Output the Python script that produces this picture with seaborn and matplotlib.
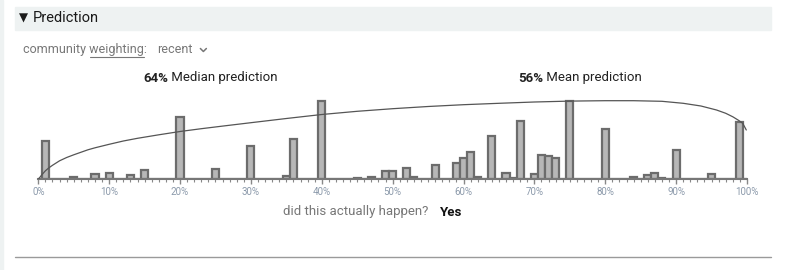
import numpy as np
import pandas as pd
import matplotlib
matplotlib.use("Agg")
import matplotlib.pyplot as plt
import seaborn as sns
from matplotlib.lines import Line2D
from matplotlib.patches import Rectangle

# ---- data ----
bar_pcts = [1, 5, 8, 10, 13, 15, 20, 25, 30, 35, 36, 40, 45, 47, 49, 50, 52, 53,
            56, 59, 60, 61, 62, 64, 66, 67, 68, 70, 71, 72, 73, 75, 80, 84, 86,
            87, 88, 90, 95, 99]
bar_heights = [38.3, 2.0, 5.6, 6.6, 4.3, 9.0, 62.6, 10.6, 33.0, 3.3, 40.0, 78.6,
               1.6, 2.0, 8.6, 8.6, 11.6, 2.0, 14.3, 16.6, 21.0, 27.3, 2.0, 43.0,
               6.0, 1.5, 58.0, 5.0, 24.3, 23.0, 21.0, 78.6, 50.0, 2.3, 4.0, 6.6,
               1.0, 29.0, 5.3, 57.0]

curve_x = [0.0, 0.5, 1.0, 1.5, 2.0, 3.0, 4.0, 5.0, 6.0, 7.0, 8.0, 10.0, 12.0,
           14.0, 17.0, 20.0, 23.0, 26.0, 30.0, 35.0, 40.0, 45.0, 50.0, 55.0,
           60.0, 65.0, 70.0, 75.0, 80.0, 84.0, 88.0, 91.0, 93.5, 95.7, 97.0,
           98.0, 98.8, 99.4, 99.9]
curve_y = [0.0, 4.5, 8.5, 11.5, 14.0, 18.5, 21.8, 24.5, 27.0, 29.5, 31.5, 35.0,
           38.3, 41.0, 44.5, 47.8, 50.6, 53.2, 56.6, 60.8, 64.8, 68.0, 70.6, 72.8,
           74.6, 76.0, 77.3, 78.2, 78.6, 78.6, 78.0, 76.0, 73.3, 69.3, 66.0,
           62.5, 59.0, 56.0, 49.3]

tick_values = list(range(0, 101, 10))
tick_labels = [f"{v}%" for v in tick_values]

median_label = ("64%", " Median prediction")
mean_label = ("56%", " Mean prediction")

# ---- figure ----
sns.set_theme(style="white")
plt.rcParams["font.family"] = ["Roboto", "DejaVu Sans"]

W, H = 787, 270
fig = plt.figure(figsize=(W / 100, H / 100), dpi=100)


def fx(x):
    return x / W


def fy(y):
    return 1 - y / H


# header band and frame pieces
fig.patches.append(Rectangle((fx(15), fy(30)), fx(771) - fx(15), fy(7) - fy(30),
                             transform=fig.transFigure, color="#eef2f2", zorder=0))
fig.patches.append(Rectangle((0, 0), fx(3), 1, transform=fig.transFigure,
                             color="#eef2f2", zorder=0))
fig.lines.append(Line2D([fx(15), fx(771)], [fy(257), fy(257)], transform=fig.transFigure,
                        color="#9a9a9a", lw=1.0))

renderer = fig.canvas.get_renderer()


def seq(x, y, parts):
    for s, kw in parts:
        gap = kw.pop("gap", 0)
        t = fig.text(fx(x), fy(y), s, va="center", ha="left", **kw)
        bb = t.get_window_extent(renderer=renderer)
        x = bb.x1 + gap
    return x


def width_of(s, **kw):
    t = fig.text(0, 0, s, **kw)
    w = t.get_window_extent(renderer=renderer).width
    t.remove()
    return w


seq(19, 18.5, [("▼", dict(fontsize=8.5, color="#1a1a1a", family=["DejaVu Sans"], gap=5)),
               ("Prediction", dict(fontsize=10.5, color="#1a1a1a"))])

gkw = dict(fontsize=9, color="#777777")
xe = seq(23, 50, [("community weighting:", dict(gkw, gap=10)),
                  ("recent", dict(gkw))])
u0 = 23 + width_of("community ", **gkw)
u1 = 23 + width_of("community weighting", **gkw)
fig.lines.append(Line2D([fx(u0 + 1), fx(u1)], [fy(57), fy(57)],
                        transform=fig.transFigure, color="#777777", lw=0.8))
cx = xe + 8
fig.lines.append(Line2D([fx(cx), fx(cx + 3), fx(cx + 6)], [fy(48.5), fy(51.5), fy(48.5)],
                        transform=fig.transFigure, color="#777777", lw=1.1))

seq(143, 78, [(median_label[0], dict(fontsize=9.5, color="#222222", weight="bold")),
              (median_label[1], dict(fontsize=9.5, color="#222222"))])
seq(518, 78, [(mean_label[0], dict(fontsize=9.5, color="#222222", weight="bold")),
              (mean_label[1], dict(fontsize=9.5, color="#222222"))])

seq(283, 212, [("did this actually happen?", dict(fontsize=9.5, color="#777777", gap=12)),
               ("Yes", dict(fontsize=9.5, color="#111111", weight="bold"))])

# ---- chart axes ----
x0, x1 = 38.3, 747.0
ybase, ytop = 179.3, 95.0
ax = fig.add_axes([fx(x0), fy(ybase), fx(x1) - fx(x0), fy(ytop) - fy(ybase)])
ax.set_facecolor("none")

df = pd.DataFrame({"pct": bar_pcts, "h": bar_heights})
sns.histplot(data=df, x="pct", weights="h", binwidth=1, binrange=(-0.5, 100.5),
             ax=ax, color="#b7b7b7", alpha=1, edgecolor="#6c6c6c", linewidth=1.6)

cdf = pd.DataFrame({"x": curve_x, "y": curve_y})
sns.lineplot(data=cdf, x="x", y="y", ax=ax, color="#555555", lw=0.9, zorder=5)

ax.set_xlim(0, 100)
ax.set_ylim(0, ybase - ytop)
ax.set_xlabel("")
ax.set_ylabel("")
ax.set_yticks([])
ax.set_xticks(tick_values)
ax.set_xticklabels(tick_labels)
ax.set_xticks(range(0, 101), minor=True)
for s in ["top", "left", "right"]:
    ax.spines[s].set_visible(False)
ax.spines["bottom"].set_color("#777777")
ax.spines["bottom"].set_linewidth(1.5)
ax.tick_params(axis="x", which="major", bottom=True, length=3.5, width=1, color="#888888",
               labelsize=7, labelcolor="#8c9aab", pad=2)
ax.tick_params(axis="x", which="minor", bottom=True, length=2.2, width=0.8, color="#888888")
ax.grid(False)

fig.savefig("out.png", dpi=100)
